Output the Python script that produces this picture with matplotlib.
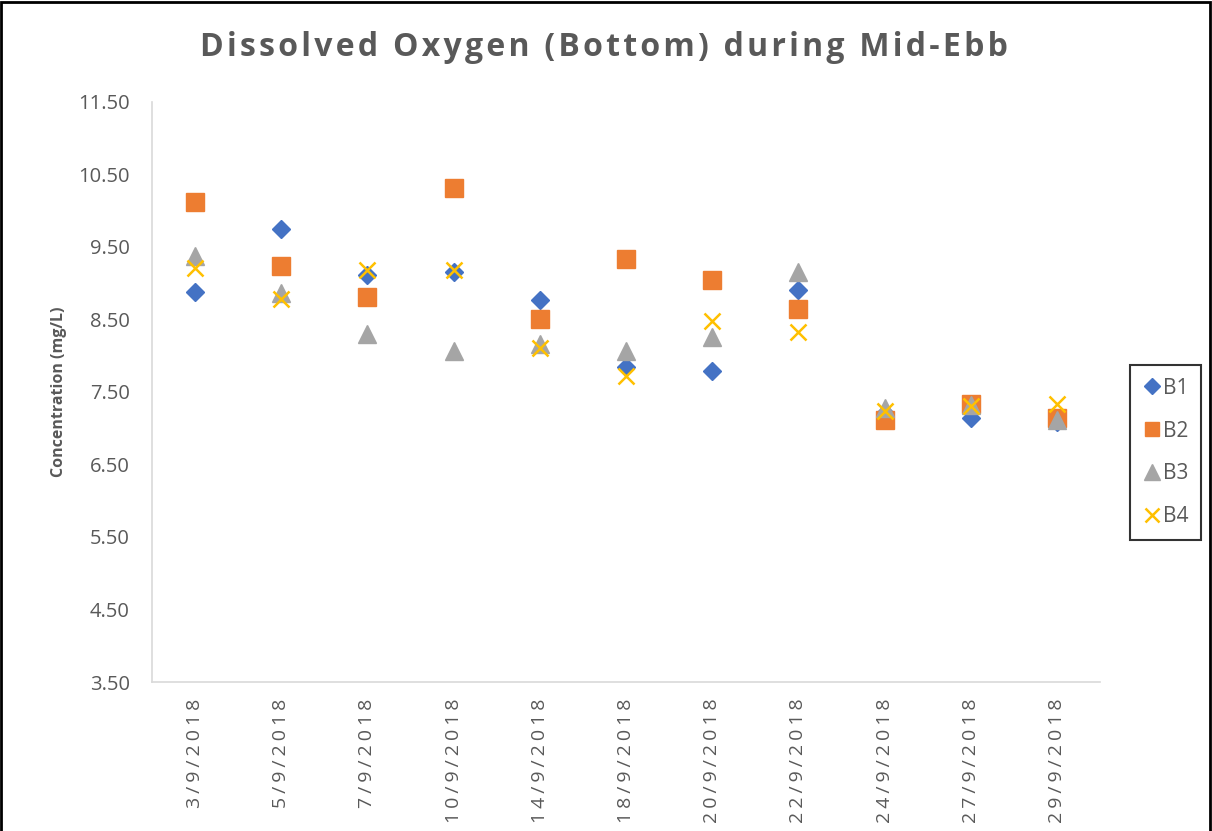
import matplotlib.pyplot as plt
from matplotlib.patches import Rectangle

dates = ['3/9/2018', '5/9/2018', '7/9/2018', '10/9/2018', '14/9/2018', '18/9/2018',
         '20/9/2018', '22/9/2018', '24/9/2018', '27/9/2018', '29/9/2018']
b1 = [8.88, 9.75, 9.12, 9.15, 8.77, 7.85, 7.79, 8.90, 7.21, 7.14, 7.09]
b2 = [10.12, 9.24, 8.81, 10.32, 8.50, 9.33, 9.04, 8.65, 7.11, 7.34, 7.14]
b3 = [9.37, 8.86, 8.30, 8.06, 8.16, 8.06, 8.26, 9.15, 7.28, 7.32, 7.12]
b4 = [9.21, 8.78, 9.18, 9.18, 8.10, 7.72, 8.48, 8.33, 7.24, 7.30, 7.34]

plt.rcParams['font.family'] = ['Open Sans', 'DejaVu Sans']
grey = '#595959'
hair = '\u200a'


def spaced(s, n=1):
    # fake letter spacing with hair spaces
    return (hair * n).join(s)


fig = plt.figure(figsize=(12.12, 8.31), dpi=100)
ax = fig.add_axes([0.1254, 0.1793, 0.7822, 0.698])

x = range(len(dates))
ax.plot(x, b1, 'D', color='#4472C4', markersize=9.5, linestyle='none', label='B1')
ax.plot(x, b2, 's', color='#ED7D31', markersize=12.5, linestyle='none', label='B2')
ax.plot(x, b3, '^', color='#A5A5A5', markersize=13, linestyle='none', label='B3')
ax.plot(x, b4, 'x', color='#FFC000', markersize=12, markeredgewidth=1.8, linestyle='none', label='B4')

ax.set_xlim(-0.5, len(dates) - 0.5)
ax.set_ylim(3.5, 11.5)
ax.set_yticks([3.5 + i for i in range(9)])
ax.set_yticklabels(['%.2f' % (3.5 + i) for i in range(9)], fontsize=14.5)
ax.set_xticks(list(x))
ax.set_xticklabels([spaced(d, 2) for d in dates], rotation=90, fontsize=14)
ax.tick_params(length=0, colors=grey)
ax.tick_params(axis='x', pad=12)
ax.tick_params(axis='y', pad=16)

for s in ['top', 'right']:
    ax.spines[s].set_visible(False)
for s in ['left', 'bottom']:
    ax.spines[s].set_color('#d9d9d9')
    ax.spines[s].set_linewidth(1.2)

ax.set_ylabel('Concentration (mg/L)', fontsize=11.5, fontweight='bold', color=grey, labelpad=8)

fig.text(0.498, 0.943, spaced('Dissolved Oxygen (Bottom) during Mid-Ebb'), ha='center', va='center',
         fontsize=23, fontweight='bold', color=grey)

leg = fig.legend(loc='center left', bbox_to_anchor=(1130 / 1212, 0.4555),
                 frameon=True, fancybox=False, edgecolor='black', fontsize=15,
                 labelspacing=1.05, handletextpad=0.1, handlelength=0.9, borderpad=0.6,
                 borderaxespad=0, markerscale=0.85)
leg.get_frame().set_linewidth(1.5)
for t in leg.get_texts():
    t.set_color(grey)

fig.patches.append(Rectangle((0.001, -0.01), 0.997, 1.008, transform=fig.transFigure,
                             fill=False, edgecolor='black', linewidth=2))

fig.savefig('out.png', dpi=100)
